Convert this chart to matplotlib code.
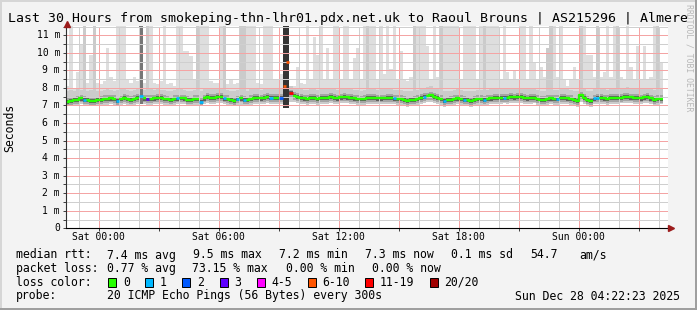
import numpy as np
import matplotlib.pyplot as plt
from matplotlib.patches import Rectangle
from matplotlib.transforms import blended_transform_factory

plt.rcParams['font.family'] = ['DejaVu Sans Mono']
plt.rcParams['lines.scale_dashes'] = False

W, H = 697, 310
T = 11.6  # ping went above the top of the graph

# 10 minute slots, first one starts Fri 22:22:23 (hours relative to Sat 00:00)
t_first = -1.627
slot_h = 1 / 6

median_ms = [
    7.22, 7.26, 7.30, 7.34, 7.40, 7.33, 7.30, 7.27, 7.25, 7.30,
    7.33, 7.36, 7.38, 7.40, 7.38, 7.28, 7.35, 7.45, 7.38, 7.33,
    7.37, 7.42, 7.55, 7.40, 7.37, 7.38, 7.40, 7.44, 7.42, 7.38,
    7.35, 7.30, 7.36, 7.40, 7.41, 7.40, 7.32, 7.30, 7.36, 7.38,
    7.22, 7.40, 7.50, 7.45, 7.44, 7.48, 7.50, 7.40, 7.36, 7.30,
    7.27, 7.35, 7.40, 7.32, 7.30, 7.38, 7.45, 7.42, 7.40, 7.45,
    7.50, 7.45, 7.42, 7.45, 7.42, 8.10, 9.50, 7.70, 7.55, 7.48,
    7.45, 7.40, 7.38, 7.45, 7.42, 7.38, 7.42, 7.45, 7.44, 7.48,
    7.44, 7.40, 7.46, 7.50, 7.46, 7.45, 7.40, 7.37, 7.35, 7.38,
    7.42, 7.44, 7.42, 7.40, 7.40, 7.41, 7.42, 7.44, 7.40, 7.38,
    7.36, 7.32, 7.27, 7.30, 7.32, 7.36, 7.45, 7.48, 7.52, 7.57,
    7.50, 7.44, 7.36, 7.26, 7.30, 7.32, 7.36, 7.40, 7.36, 7.32,
    7.30, 7.27, 7.33, 7.38, 7.36, 7.32, 7.36, 7.40, 7.42, 7.44,
    7.43, 7.45, 7.44, 7.48, 7.46, 7.50, 7.48, 7.42, 7.40, 7.44,
    7.45, 7.36, 7.32, 7.33, 7.36, 7.40, 7.38, 7.36, 7.42, 7.44,
    7.40, 7.38, 7.30, 7.27, 7.58, 7.42, 7.34, 7.27, 7.40, 7.45,
    7.44, 7.40, 7.38, 7.42, 7.45, 7.44, 7.45, 7.48, 7.50, 7.46,
    7.45, 7.43, 7.40, 7.46, 7.50, 7.40, 7.33, 7.38, 7.36,
]

max_ms = [
    8.1, T, 8.0, 8.9, 10.5, T, 8.3, 9.9, T, 8.3,
    8.2, 8.4, 10.3, 8.6, 8.4, T, T, T, 8.5, 8.3,
    8.6, 8.4, T, 8.3, T, T, 8.3, 8.2, 8.4, T,
    8.2, 8.3, 8.1, T, T, 10.1, 10.1, 9.8, 8.5, T,
    T, T, T, 8.4, 8.3, 8.3, T, T, 8.2, 8.5,
    8.2, 8.3, T, T, T, T, T, 8.3, 8.2, T,
    T, T, 8.5, 8.5, 8.8, T, T, 8.0, 8.1, 9.2,
    8.3, 8.2, T, 8.5, 10.9, 9.9, T, 8.5, 10.3, 8.5,
    T, T, 8.5, T, T, 8.5, 9.7, 10.3, 8.5, T,
    T, T, T, 8.5, T, 8.8, T, 9.1, T, 8.5,
    10.1, 8.5, 8.4, 8.6, T, T, T, T, 10.4, 8.5,
    T, 8.6, T, T, T, T, T, T, 8.5, T,
    T, T, T, 8.5, T, T, T, T, T, T,
    8.5, T, 8.9, 8.5, 9.0, 8.5, T, T, 8.5, T,
    9.5, 8.5, 9.2, 8.6, 10.3, T, T, 8.6, T, 8.5,
    8.1, 8.5, 9.2, 8.5, T, T, 9.9, 9.9, 8.6, T,
    8.6, 8.9, T, 8.6, T, T, 8.6, 8.5, T, 9.2,
    8.5, 10.4, 8.5, 10.4, 8.5, 8.6, T, T, 9.5,
]

upper_ms = [
    7.85, 7.90, 7.85, 7.95, 7.90, T, 7.85, 7.90, T, 7.85,
    7.80, 7.90, 7.95, 7.90, 7.85, 7.90, 7.95, 8.00, 7.90, 7.85,
    7.90, 7.95, 8.20, 7.90, T, 7.95, 7.90, 7.95, 7.90, 7.90,
    7.85, 7.85, 7.90, 7.95, 7.95, 7.90, 7.85, 7.85, 7.90, T,
    7.85, 7.95, 8.00, 7.95, 7.95, 8.00, 8.00, T, 7.90, 7.85,
    7.80, 7.90, T, T, 7.85, 7.95, 8.00, 7.95, 7.90, 8.00,
    8.00, 7.95, 7.95, 8.00, 8.00, 8.50, 8.50, 8.10, 8.00, 7.95,
    7.95, 7.90, 7.90, 7.95, 7.95, 7.90, 7.95, 7.95, 7.95, 8.00,
    7.95, 7.90, 8.00, 8.00, 7.95, 7.95, 7.90, 7.90, 7.85, 7.90,
    T, 7.95, 7.95, 7.90, 7.95, 7.95, 7.95, 7.95, 7.90, 7.90,
    7.90, 7.85, 7.80, 7.85, T, 7.90, 7.95, 8.00, 8.05, 8.10,
    8.00, 7.95, T, 7.80, 7.85, 7.85, 7.90, 7.95, 7.90, 7.85,
    7.85, 7.80, 7.85, 7.90, 7.90, T, 7.90, 7.95, 7.95, 8.00,
    7.95, 8.00, 7.95, 8.00, 8.00, 8.00, 8.00, 7.95, 7.95, 7.95,
    8.00, 7.90, 7.85, 7.85, 10.3, T, 7.90, 7.90, 7.95, 7.95,
    7.95, 7.90, 7.85, 7.80, T, 7.95, 7.85, 7.80, 7.95, T,
    7.95, 7.95, 7.90, 7.95, 8.00, T, 8.00, 8.00, 8.05, 8.00,
    8.00, 7.95, 7.95, 8.00, 8.00, 7.95, 7.90, T, 7.95,
]

min_ms = [
    6.98, 7.00, 7.02, 7.04, 7.08, 7.00, 7.00, 6.98, 6.96, 7.00,
    7.02, 7.04, 7.05, 7.08, 7.05, 6.98, 7.02, 7.10, 7.05, 7.00,
    7.05, 7.08, 7.10, 7.06, 7.02, 7.04, 7.06, 7.10, 7.08, 7.05,
    7.02, 6.98, 7.02, 7.06, 7.08, 7.06, 7.00, 6.98, 7.02, 7.04,
    6.95, 7.06, 7.15, 7.10, 7.10, 7.12, 7.14, 7.06, 7.02, 6.98,
    6.96, 7.02, 7.05, 7.00, 6.98, 7.04, 7.10, 7.08, 7.06, 7.10,
    7.14, 7.10, 7.08, 7.10, 7.08, 6.85, 6.85, 7.20, 7.20, 7.14,
    7.10, 7.06, 7.04, 7.10, 7.08, 7.05, 7.08, 7.10, 7.10, 7.14,
    7.10, 7.06, 7.12, 7.15, 7.12, 7.10, 7.06, 7.04, 7.02, 7.05,
    7.08, 7.10, 7.08, 7.06, 7.06, 7.08, 7.08, 7.10, 7.06, 7.04,
    7.02, 6.98, 6.94, 6.97, 6.98, 7.02, 7.10, 7.14, 7.18, 7.22,
    7.15, 7.10, 7.02, 6.92, 6.96, 6.98, 7.02, 7.06, 7.02, 6.98,
    6.96, 6.94, 7.00, 7.04, 7.02, 6.98, 7.02, 7.06, 7.08, 7.10,
    7.10, 7.12, 7.10, 7.14, 7.12, 7.16, 7.14, 7.08, 7.06, 7.10,
    7.12, 7.02, 6.98, 7.00, 7.02, 7.06, 7.04, 7.02, 7.08, 7.10,
    7.06, 7.04, 6.96, 6.94, 7.20, 7.08, 7.00, 6.94, 7.06, 7.10,
    7.10, 7.06, 7.04, 7.08, 7.10, 7.10, 7.12, 7.14, 7.16, 7.12,
    7.10, 7.10, 7.06, 7.12, 7.16, 7.06, 7.00, 7.04, 7.06,
]

# lost pings out of 20 per slot
loss = [
    0, 0, 0, 0, 0, 1, 0, 0, 0, 0,
    0, 0, 0, 0, 0, 1, 0, 0, 0, 0,
    0, 0, 1, 0, 3, 0, 0, 0, 0, 0,
    0, 0, 0, 1, 0, 0, 0, 0, 0, 0,
    1, 0, 0, 0, 0, 0, 0, 1, 0, 0,
    0, 1, 0, 1, 0, 0, 0, 0, 0, 0,
    0, 1, 0, 0, 2, 8, 8, 15, 0, 0,
    0, 0, 0, 0, 0, 0, 0, 0, 0, 0,
    0, 0, 0, 0, 0, 0, 0, 0, 0, 0,
    0, 0, 0, 0, 0, 0, 0, 0, 1, 0,
    0, 0, 0, 0, 0, 0, 0, 1, 0, 0,
    0, 0, 0, 1, 0, 0, 0, 0, 0, 1,
    0, 0, 0, 0, 0, 1, 0, 0, 0, 0,
    0, 1, 0, 0, 0, 0, 0, 0, 0, 0,
    0, 0, 0, 0, 0, 0, 0, 1, 0, 0,
    0, 0, 0, 0, 0, 0, 0, 0, 1, 1,
    0, 0, 0, 0, 0, 0, 0, 0, 0, 0,
    0, 0, 0, 0, 0, 0, 0, 0, 0,
]

# slots where most pings were slow
dense_slot = [22, 65, 66]
dense_top = [T, T, T]

title = "Last 30 Hours from smokeping-thn-lhr01.pdx.net.uk to Raoul Brouns | AS215296 | Almere"
x_labels = ['Sat 00:00', 'Sat 06:00', 'Sat 12:00', 'Sat 18:00', 'Sun 00:00']
x_label_hours = [0, 6, 12, 18, 24]
rtt_stats = ['7.4 ms avg', '9.5 ms max', '7.2 ms min', '7.3 ms now', '0.1 ms sd', '54.7', 'am/s']
loss_stats = ['0.77 % avg', '73.15 % max', '0.00 % min', '0.00 % now']
loss_labels = ['0', '1', '2', '3', '4-5', '6-10', '11-19', '20/20']
loss_colors = ['#26ff00', '#00b8ff', '#0059ff', '#5e00ff', '#ff00ff', '#ff5500', '#ff0000', '#a00000']
probe_text = '20 ICMP Echo Pings (56 Bytes) every 300s'
stamp = 'Sun Dec 28 04:22:23 2025'


def loss_color(n):
    if n <= 3:
        return loss_colors[n]
    if n <= 5:
        return loss_colors[4]
    if n <= 10:
        return loss_colors[5]
    if n <= 19:
        return loss_colors[6]
    return loss_colors[7]


def fx(x):
    return x / W


def fy(y):
    return 1 - y / H


fig = plt.figure(figsize=(W / 100, H / 100), dpi=100, facecolor='#f3f3f3')

# 3d-ish frame
for (x0, y0, w, h, c) in [(0, 0, W, 2, '#d6d6d6'), (0, 0, 2, H, '#d6d6d6'),
                          (0, H - 2, W, 2, '#9f9f9f'), (W - 2, 0, 2, H, '#9f9f9f')]:
    fig.add_artist(Rectangle((fx(x0), fy(y0 + h)), w / W, h / H, transform=fig.transFigure,
                             color=c, lw=0, antialiased=False))

ax = fig.add_axes([fx(66), fy(228.3), fx(668) - fx(66), fy(26) - fy(228.3)])
ax.set_facecolor('white')
ax.set_xlim(t_first, t_first + 30.1)
ax.set_ylim(0, 11.53)
for s in ax.spines.values():
    s.set_visible(False)

n = len(median_ms)
t = t_first + slot_h * np.arange(n)
med = np.array(median_ms)
lo = np.array(min_ms)
hi = np.array(max_ms)
up = np.array(upper_ms)
lost = np.array(loss)

kw = dict(width=slot_h, align='edge', lw=0, antialiased=False)
ax.bar(t, hi - lo, bottom=lo, color='#dedede', zorder=1, **kw)
ax.bar(t, up - lo, bottom=lo, color='#cbcbcb', zorder=1.5, **kw)
ax.bar(t, 0.44, bottom=med - 0.23, color='#a4a4a4', zorder=2, **kw)
ax.bar(t, 0.22, bottom=med - 0.12, color='#5e5e5e', zorder=2.5, **kw)
dense_shade = ['#777777', '#343434', '#343434']
for s, top, c in zip(dense_slot, dense_top, dense_shade):
    ax.bar(t[s], top - lo[s], bottom=lo[s], color=c, zorder=3, **kw)

# dotted grid (1px on / 1px off) on top of the smoke
grid_kw = dict(lw=0.72, ls=(0, (0.72, 0.72)), antialiased=False, zorder=4)
red_grid, grey_grid = '#f4a4a4', '#cfcfcf'
for h in range(-1, 29):
    ax.axvline(h, color=red_grid if h % 3 == 0 else grey_grid, **grid_kw)
for v in np.arange(0.5, 11.51, 0.5):
    ax.axhline(v, color=red_grid if v % 1 == 0 else grey_grid, **grid_kw)

# median rtt coloured by loss
edges = t_first + slot_h * np.arange(n + 1)
green = np.where(lost == 0, med, np.nan)
ax.step(edges, np.append(green, green[-1]), where='post', color=loss_colors[0],
        lw=1.7, zorder=6, solid_capstyle='butt')
for i in np.nonzero(lost)[0]:
    ax.hlines(med[i], t[i], t[i] + slot_h, color=loss_color(lost[i]), lw=1.9, zorder=7)

# ticks
ax.set_xticks(np.arange(0, 28, 3))
ax.set_xticklabels([])
ax.set_yticks(np.arange(0, 11.51, 0.5))
ax.set_yticklabels([])
ax.tick_params(axis='both', length=2.2, width=0.72, color='#404040', direction='out')

# axes with arrows
ax.plot([0, 0], [0, 1.005], transform=ax.transAxes, color='#303030', lw=0.8, clip_on=False, zorder=8)
ax.plot([0, 1.003], [0, 0], transform=ax.transAxes, color='#000000', lw=0.8, clip_on=False, zorder=8)
ax.plot([0.001], [1.012], marker='^', ms=4.2, color='#9c1c1c', transform=ax.transAxes, clip_on=False, zorder=9)
ax.plot([1.0058], [0], marker='>', ms=4.2, color='#9c1c1c', transform=ax.transAxes, clip_on=False, zorder=9)

ytr = blended_transform_factory(fig.transFigure, ax.transData)
for v in range(12):
    ax.text(fx(60), v, '0' if v == 0 else f'{v} m', transform=ytr, ha='right', va='center', fontsize=7)
xtr = blended_transform_factory(ax.transData, fig.transFigure)
for h, lab in zip(x_label_hours, x_labels):
    ax.text(h, fy(237.5), lab, transform=xtr, ha='center', va='center', fontsize=7)

fig.text(fx(8), fy(18.5), title, ha='left', va='center', fontsize=9.5)
fig.text(fx(10), fy(128), 'Seconds', rotation=90, ha='center', va='center', fontsize=8.3)
fig.text(fx(689), fy(4), 'RRDTOOL / TOBI OETIKER', rotation=270, ha='center', va='top',
         fontsize=5.9, color='#b8b8b8')

# legend
fs = 8.3
fig.text(fx(16), fy(255), 'median rtt:', va='center', fontsize=fs)
for x, s in zip([107, 193, 279, 365, 451, 530, 579], rtt_stats):
    fig.text(fx(x), fy(255), s, va='center', fontsize=fs)
fig.text(fx(16), fy(268.5), 'packet loss:', va='center', fontsize=fs)
for x, s in zip([107, 192.5, 286.5, 372.5], loss_stats):
    fig.text(fx(x), fy(268.5), s, va='center', fontsize=fs)
fig.text(fx(16), fy(282), 'loss color:', va='center', fontsize=fs)
for bx, lx, lab, c in zip([108, 145, 182, 220, 256.5, 307.5, 365, 430],
                          [123, 160, 197, 234, 271, 322, 380, 444], loss_labels, loss_colors):
    fig.add_artist(Rectangle((fx(bx), fy(286.5)), 8 / W, 9 / H, transform=fig.transFigure,
                             facecolor=c, edgecolor='black', lw=0.7))
    fig.text(fx(lx), fy(282), lab, va='center', fontsize=fs)
fig.text(fx(16), fy(296), 'probe:', va='center', fontsize=fs)
fig.text(fx(107), fy(296), probe_text, va='center', fontsize=fs)
fig.text(fx(680), fy(296), stamp, va='center', ha='right', fontsize=fs)

fig.savefig('out.png', dpi=100, facecolor=fig.get_facecolor())
